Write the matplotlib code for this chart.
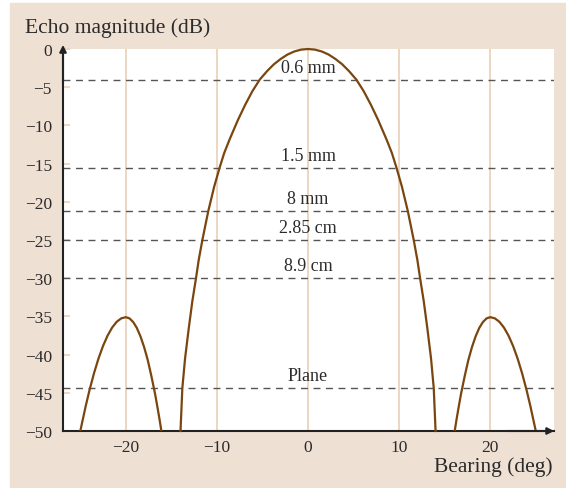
import matplotlib.pyplot as plt
from matplotlib.patches import Rectangle

plt.rcParams['font.family'] = ['Liberation Serif', 'DejaVu Serif']

# main lobe, left half (mirrored for the right half)
main_deg = [-14.0, -13.8, -13.5, -13.1, -12.7, -12.3, -12.0, -11.6, -10.95, -10.3,
            -9.7, -9.2, -8.6, -7.7, -6.9, -6.1, -5.3, -4.5, -3.75, -3.0,
            -2.25, -1.5, -0.75, 0.0]
main_db = [-50.0, -44.4, -40.5, -36.6, -33.0, -30.0, -27.6, -25.0, -21.2, -18.0,
           -15.5, -13.6, -11.8, -9.3, -7.3, -5.5, -4.0, -2.9, -2.0, -1.3,
           -0.72, -0.32, -0.08, 0.0]

# left side lobe (mirrored for the right one)
side_deg = [-25.0, -24.7, -24.4, -24.0, -23.5, -23.0, -22.5, -22.0, -21.5, -21.0,
            -20.5, -20.0, -19.6, -19.2, -18.8, -18.4, -18.0, -17.6, -17.2, -16.8,
            -16.5, -16.3, -16.1]
side_db = [-50.0, -48.35, -46.7, -44.7, -42.45, -40.5, -38.85, -37.5, -36.45, -35.7,
           -35.25, -35.1, -35.26, -35.73, -36.5, -37.6, -39.0, -40.7, -42.8, -45.1,
           -47.1, -48.5, -50.0]

# reference echo levels
levels = [-4.0, -15.6, -21.2, -25.0, -30.0, -44.4]
level_labels = ['0.6 mm', '1.5 mm', '8 mm', '2.85 cm', '8.9 cm', 'Plane']

xticks = [-20, -10, 0, 10, 20]
yticks = [0, -5, -10, -15, -20, -25, -30, -35, -40, -45, -50]

beige = '#efe0d4'
grid_col = '#ead3bd'
curve_col = '#7a4610'
text_col = '#2b2b2b'

fig = plt.figure(figsize=(5.66, 4.89), dpi=100)
fig.patches.append(Rectangle((10 / 566, 0), 1 - 10 / 566, 485 / 489,
                             transform=fig.transFigure, color=beige, zorder=-10))

ax = fig.add_axes([63 / 566, 57 / 489, 491 / 566, 382 / 489])
ax.set_facecolor('white')
ax.set_xlim(-26.9, 27.0)
ax.set_ylim(-50, 0)

for x in xticks:
    ax.axvline(x, color=grid_col, lw=1.3, zorder=1)

right_deg = [-d for d in main_deg[::-1]]
right_db = main_db[::-1]
ax.plot(main_deg + right_deg[1:], main_db + right_db[1:], color=curve_col, lw=1.6,
        zorder=3, clip_on=False, solid_joinstyle='round')
ax.plot(side_deg, side_db, color=curve_col, lw=1.6, zorder=3, solid_joinstyle='round')
ax.plot([-d for d in side_deg], side_db, color=curve_col, lw=1.6, zorder=3,
        solid_joinstyle='round')

for lv, lab in zip(levels, level_labels):
    ax.axhline(lv, color='#555555', lw=1.0, ls=(0, (5, 4)), zorder=2)
    ax.text(0, lv + 0.5, lab, ha='center', va='bottom', fontsize=13,
            color=text_col, zorder=4)

for s in ['top', 'right']:
    ax.spines[s].set_visible(False)
for s in ['left', 'bottom']:
    ax.spines[s].set_color('#222222')
    ax.spines[s].set_linewidth(1.5)

ax.set_xticks(xticks)
ax.set_xticklabels([str(t).replace('-', '\u2212') for t in xticks])
ax.set_yticks(yticks)
ax.set_yticklabels([str(t).replace('-', '\u2212') for t in yticks])
ax.tick_params(axis='x', length=0, pad=6, labelsize=12.5, labelcolor=text_col)
ax.tick_params(axis='y', direction='in', length=5, width=1.3, color=grid_col,
               pad=8, labelsize=12.5, labelcolor=text_col)

# axis arrows
ax.annotate('', xy=(0, 1.018), xytext=(0, 0.9), xycoords='axes fraction',
            arrowprops=dict(arrowstyle='-|>', color='#222222', lw=1.5,
                            mutation_scale=10))
ax.annotate('', xy=(1.006, 0), xytext=(0.9, 0), xycoords='axes fraction',
            arrowprops=dict(arrowstyle='-|>', color='#222222', lw=1.5,
                            mutation_scale=10))

fig.text(25 / 566, 1 - 28 / 489, 'Echo magnitude (dB)', ha='left', va='center',
         fontsize=15.5, color=text_col)
fig.text(553 / 566, 1 - 467 / 489, 'Bearing (deg)', ha='right', va='center',
         fontsize=15.5, color=text_col)

fig.savefig('out.png', dpi=100)
